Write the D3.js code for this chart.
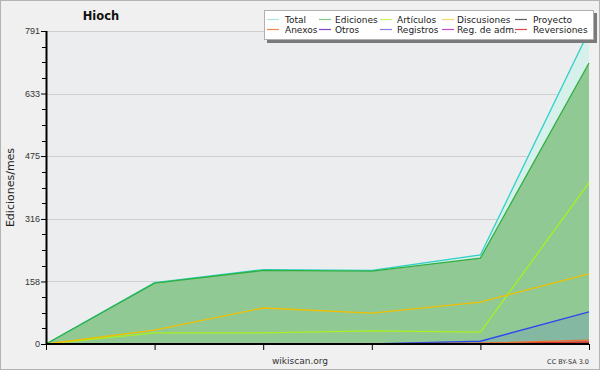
<!DOCTYPE html>
<html>
<head>
<meta charset="utf-8">
<script src="https://cdn.jsdelivr.net/npm/d3@7"></script>
<style>
body { margin: 0; background: #fff; }
svg { display: block; font-family: "DejaVu Sans", sans-serif; }
</style>
</head>
<body>
<svg class="chart"></svg>
<script>
// months (index only, no labels shown on the x axis)
var months = [0, 1, 2, 3, 4, 5];
var yTicks = [0, 158, 316, 475, 633, 791];

var total       = [0, 155, 188, 186, 225, 791];
var ediciones   = [0, 154, 186, 184, 217, 710];
var articulos   = [0, 28, 28, 33, 30, 408];
var discusiones = [0, 35, 91, 78, 106, 177];
var registros   = [0, 0, 0, 0, 7, 81];
var anexos      = [0, 0, 0, 0, 2, 10];
var reversiones = [0, 0, 0, 0, 1, 5];
var proyecto    = [0, 0, 0, 0, 0, 2];

var legendNames  = ["Total", "Ediciones", "Artículos", "Discusiones", "Proyecto",
                    "Anexos", "Otros", "Registros", "Reg. de adm.", "Reversiones"];
var legendColors = ["#a8e4e0", "#80c888", "#c8f060", "#ffd070", "#606060",
                    "#f08848", "#8040c8", "#8080f0", "#c848e0", "#e04848"];

const canvas = {width: 600, height: 370};
const margin = {top: 31, left: 46, bottom: 26, right: 11};
const dims = {
    width: canvas.width - margin.left - margin.right,
    height: canvas.height - margin.top - margin.bottom
};

const svg = d3.select(".chart")
    .attr("width", canvas.width)
    .attr("height", canvas.height);

svg.append("rect")
    .attr("x", 0.5).attr("y", 0.5)
    .attr("width", canvas.width - 1).attr("height", canvas.height - 1)
    .attr("fill", "#f0f0f0").attr("stroke", "#b4b4b4");

const x = d3.scaleLinear().domain([0, months.length - 1]).range([0, dims.width]);
const y = d3.scaleLinear().domain([0, 791]).range([dims.height, 0]);

const g = svg.append("g")
    .attr("transform", "translate(" + margin.left + "," + margin.top + ")");

g.append("rect")
    .attr("x", 0).attr("y", 0)
    .attr("width", dims.width).attr("height", dims.height)
    .attr("fill", "#ecedef");

// grid
g.selectAll(".grid").data(yTicks.slice(1)).enter().append("line")
    .attr("x1", 0).attr("x2", dims.width)
    .attr("y1", d => Math.round(y(d)) + 0.5).attr("y2", d => Math.round(y(d)) + 0.5)
    .attr("stroke", "#cfcfcf");

function area(vals) {
    return d3.area().x((d, i) => x(i)).y0(y(0)).y1(d => y(d))(vals);
}
function line(vals) {
    return d3.line().x((d, i) => x(i)).y(d => y(d))(vals);
}

g.append("path").attr("d", area(total)).attr("fill", "#d6f0ec");
g.append("path").attr("d", area(ediciones)).attr("fill", "#90c994");
g.append("path").attr("d", area(registros)).attr("fill", "rgba(70,90,240,0.15)");

var lines = [
    [total, "#30d0c8"],
    [ediciones, "#30b040"],
    [articulos, "#a8f020"],
    [discusiones, "#f0c000"],
    [proyecto, "#404040"],
    [registros, "#3048f0"],
    [reversiones, "#e03030"],
    [anexos, "#f07030"]
];
lines.forEach(function(l) {
    g.append("path").attr("d", line(l[0]))
        .attr("fill", "none").attr("stroke", l[1]).attr("stroke-width", 1.3);
});

// y axis
const yAxis = d3.axisLeft(y).tickValues(yTicks).tickSize(5).tickFormat(d3.format("d"));
const yAxisG = g.append("g").call(yAxis);
yAxisG.select(".domain").remove();
yAxisG.selectAll("text").attr("font-size", 9).attr("fill", "#333").attr("x", -6);
yAxisG.selectAll("line").attr("stroke", "#000");

var minor = d3.range(0, 791, 791 / 20).filter((d, i) => i % 4 != 0);
g.selectAll(".minor").data(minor).enter().append("line")
    .attr("x1", -4).attr("x2", 0)
    .attr("y1", d => Math.round(y(d)) + 0.5).attr("y2", d => Math.round(y(d)) + 0.5)
    .attr("stroke", "#000");

g.append("line")
    .attr("x1", 0.5).attr("x2", 0.5).attr("y1", 0).attr("y2", dims.height)
    .attr("stroke", "#000").attr("stroke-width", 2);

// x axis
const xAxis = d3.axisBottom(x).tickValues(months).tickSize(6).tickFormat("");
const xAxisG = g.append("g")
    .attr("transform", "translate(0," + dims.height + ")")
    .call(xAxis);
xAxisG.select(".domain").attr("stroke-width", 2).attr("d", "M0,0H" + dims.width);
xAxisG.selectAll("line").attr("stroke", "#000");

// titles
svg.append("text")
    .attr("x", 101).attr("y", 20)
    .attr("text-anchor", "middle")
    .attr("font-size", 11.5).attr("font-weight", "bold").attr("fill", "#111")
    .text("Hioch");

svg.append("text")
    .attr("transform", "translate(14," + (margin.top + dims.height / 2) + ") rotate(-90)")
    .attr("text-anchor", "middle")
    .attr("font-size", 11).attr("fill", "#222")
    .text("Ediciones/mes");

svg.append("text")
    .attr("x", 300).attr("y", 364)
    .attr("text-anchor", "middle")
    .attr("font-size", 9).attr("fill", "#333")
    .text("wikiscan.org");

svg.append("text")
    .attr("x", 589).attr("y", 364)
    .attr("text-anchor", "end")
    .attr("font-size", 6.5).attr("fill", "#333")
    .text("CC BY-SA 3.0");

// legend
const leg = svg.append("g");
leg.append("rect")
    .attr("x", 267).attr("y", 13).attr("width", 330).attr("height", 30)
    .attr("fill", "#7a7a7a");
leg.append("rect")
    .attr("x", 264.5).attr("y", 10.5).attr("width", 329).attr("height", 29)
    .attr("fill", "#ffffff").attr("stroke", "#b0b0b0");

var colX = [267, 319, 380, 442, 515];
var textX = [285, 335, 397, 457, 533];
legendNames.forEach(function(name, i) {
    var c = i % 5, r = Math.floor(i / 5);
    var yy = 19.5 + r * 10;
    leg.append("line")
        .attr("x1", colX[c]).attr("x2", colX[c] + 12)
        .attr("y1", yy).attr("y2", yy)
        .attr("stroke", legendColors[i]).attr("stroke-width", 1.2);
    leg.append("text")
        .attr("x", textX[c]).attr("y", yy + 3.5)
        .attr("font-size", 9).attr("fill", "#222")
        .text(name);
});
</script>
</body>
</html>
